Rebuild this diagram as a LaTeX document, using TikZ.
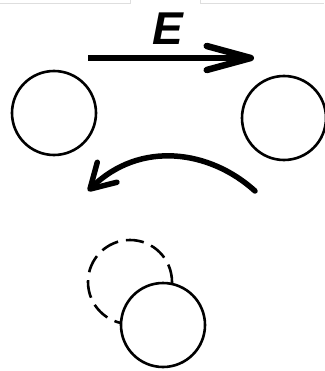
\documentclass[tikz,border=0pt]{standalone}
\usepackage{fontspec}
\setsansfont{Liberation Sans}
\usetikzlibrary{arrows.meta}

\begin{document}
\begin{tikzpicture}[
  x=1pt, y=-1pt,
  ball/.style={circle, draw=black, line width=2.6pt, minimum size=84pt, inner sep=0pt, fill=white},
  ghost/.style={circle, draw=black, line width=2.6pt, minimum size=84pt, inner sep=0pt, dash pattern=on 18pt off 8pt},
  field/.style={-{Straight Barb[length=44pt, width=24pt, round]}, draw=black, line width=6.5pt},
  back/.style={-{Straight Barb[length=24pt, width=28pt, round]}, draw=black, line width=5.5pt, line cap=round},
  frame/.style={draw=black!13, line width=1pt},
  elabel/.style={font=\sffamily\bfseries\itshape\fontsize{46}{46}\selectfont, inner sep=0pt}
]
\useasboundingbox (0,0) rectangle (324,371);

% bords du cadre en haut
\draw[frame] (0,4) -- (130,4) -- (130,0);
\draw[frame] (200,0) -- (200,4) -- (324,4);

% deux boules
\node[ball] (left)  at (54,113) {};
\node[ball] (right) at (284,118) {};

% champ E
\coordinate (eStart) at (88,58);
\coordinate (eEnd)   at (254,58);
\draw[field] (eStart) -- (eEnd);
\node[elabel] (elbl) at (168,29) {E};

% retour (courbe)
\coordinate (bStart) at (255,191);
\coordinate (bEnd)   at (88,191);
\draw[back] (bStart) .. controls (210,150) and (140,140) .. (bEnd);

% boule déplacée
\node[ghost] (old)   at (130,282) {};
\node[ball]  (moved) at (163,325) {};
\end{tikzpicture}
\end{document}
